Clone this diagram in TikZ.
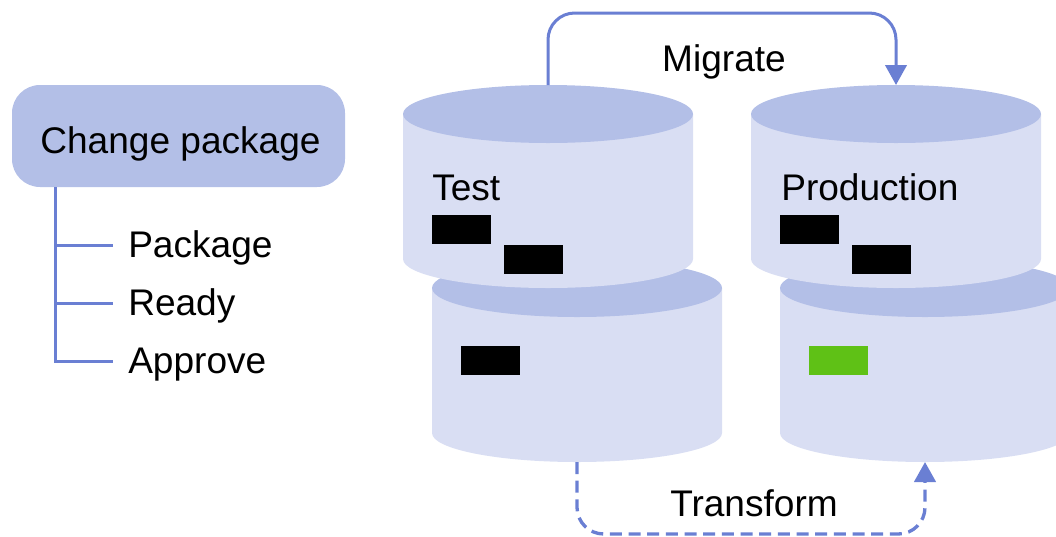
\documentclass[tikz,border=0pt]{standalone}
\usepackage{fontspec}
\setmainfont{Liberation Sans}
\usetikzlibrary{arrows.meta}
\definecolor{endblue}{HTML}{B3BFE7}
\definecolor{bodyblue}{HTML}{D9DEF3}
\definecolor{lineblue}{HTML}{6A7FD3}
\definecolor{okgreen}{HTML}{5FC116}
\tikzset{
  tag/.style={font=\fontsize{27.8}{30}\selectfont,text=black,inner sep=0pt,text height=22pt,text depth=4pt},
  store/.style={rectangle,minimum width=217.5pt,minimum height=152.25pt,inner sep=0pt,outer sep=0pt,
    path picture={
      \fill[bodyblue] ([yshift=-21.75pt]path picture bounding box.north west)
        -- ([yshift=21.75pt]path picture bounding box.south west)
        arc[start angle=180,end angle=360,x radius=108.75pt,y radius=21.75pt]
        -- ([yshift=-21.75pt]path picture bounding box.north east) -- cycle;
      \fill[endblue] ([yshift=-21.75pt]path picture bounding box.north) ellipse[x radius=108.75pt,y radius=21.75pt];
    }},
  item/.style={rectangle,fill=black,minimum width=44.25pt,minimum height=21.75pt,inner sep=0pt,anchor=north west},
  flow/.style={draw=lineblue,line width=2.25pt,rounded corners=20pt,-{Triangle[width=16pt,length=15pt,fill=lineblue]}},
  branch/.style={draw=lineblue,line width=2.25pt},
  entry/.style={tag,anchor=west,inner xsep=11.25pt}
}
\begin{document}
\begin{tikzpicture}[x=0.75pt,y=-0.75pt]
\useasboundingbox (0,0) rectangle (1056,536);
\clip (0,0) rectangle (1056,536);
\node[store] (testlow) at (577,360.5) {};
\node[store] (prodlow) at (925,360.5) {};
\node[store] (test) at (548,186.5) {};
\node[store] (prod) at (896,186.5) {};

\node[tag,anchor=base west] (testlabel) at (432,200) {Test};
\node[tag,anchor=base west] (prodlabel) at (781,200) {Production};
\node[tag] (migrate) at (724,59) {Migrate};
\node[tag] (transform) at (754,504.5) {Transform};

\node[item] (t1) at (432,215) {};
\node[item] (t2) at (504,245) {};
\node[item] (p1) at (780,215) {};
\node[item] (p2) at (852,245) {};
\node[item] (t3) at (461,346) {};
\node[item,fill=okgreen] (p3) at (809,346) {};

\node[rectangle,rounded corners=21pt,fill=endblue,minimum width=249.75pt,minimum height=76.5pt,tag,text height=29.5pt] (change) at (178.5,136) {\hspace*{3pt}Change package};
\coordinate (trunk) at (55,187);
\node[entry] (package) at (113,245) {Package};
\node[entry] (ready) at (113,303) {Ready};
\node[entry] (approve) at (113,361) {Approve};

\draw[branch] (trunk) |- (package.west);
\draw[branch] (trunk) |- (ready.west);
\draw[branch] (trunk) |- (approve.west);

\draw[flow] (test.north) -- ++(0,-72) -| (prod.north);
\draw[flow,line width=2.5pt,dash pattern=on 9pt off 5pt] (testlow.south) -- ++(0,72) -| (prodlow.south);
\end{tikzpicture}
\end{document}
